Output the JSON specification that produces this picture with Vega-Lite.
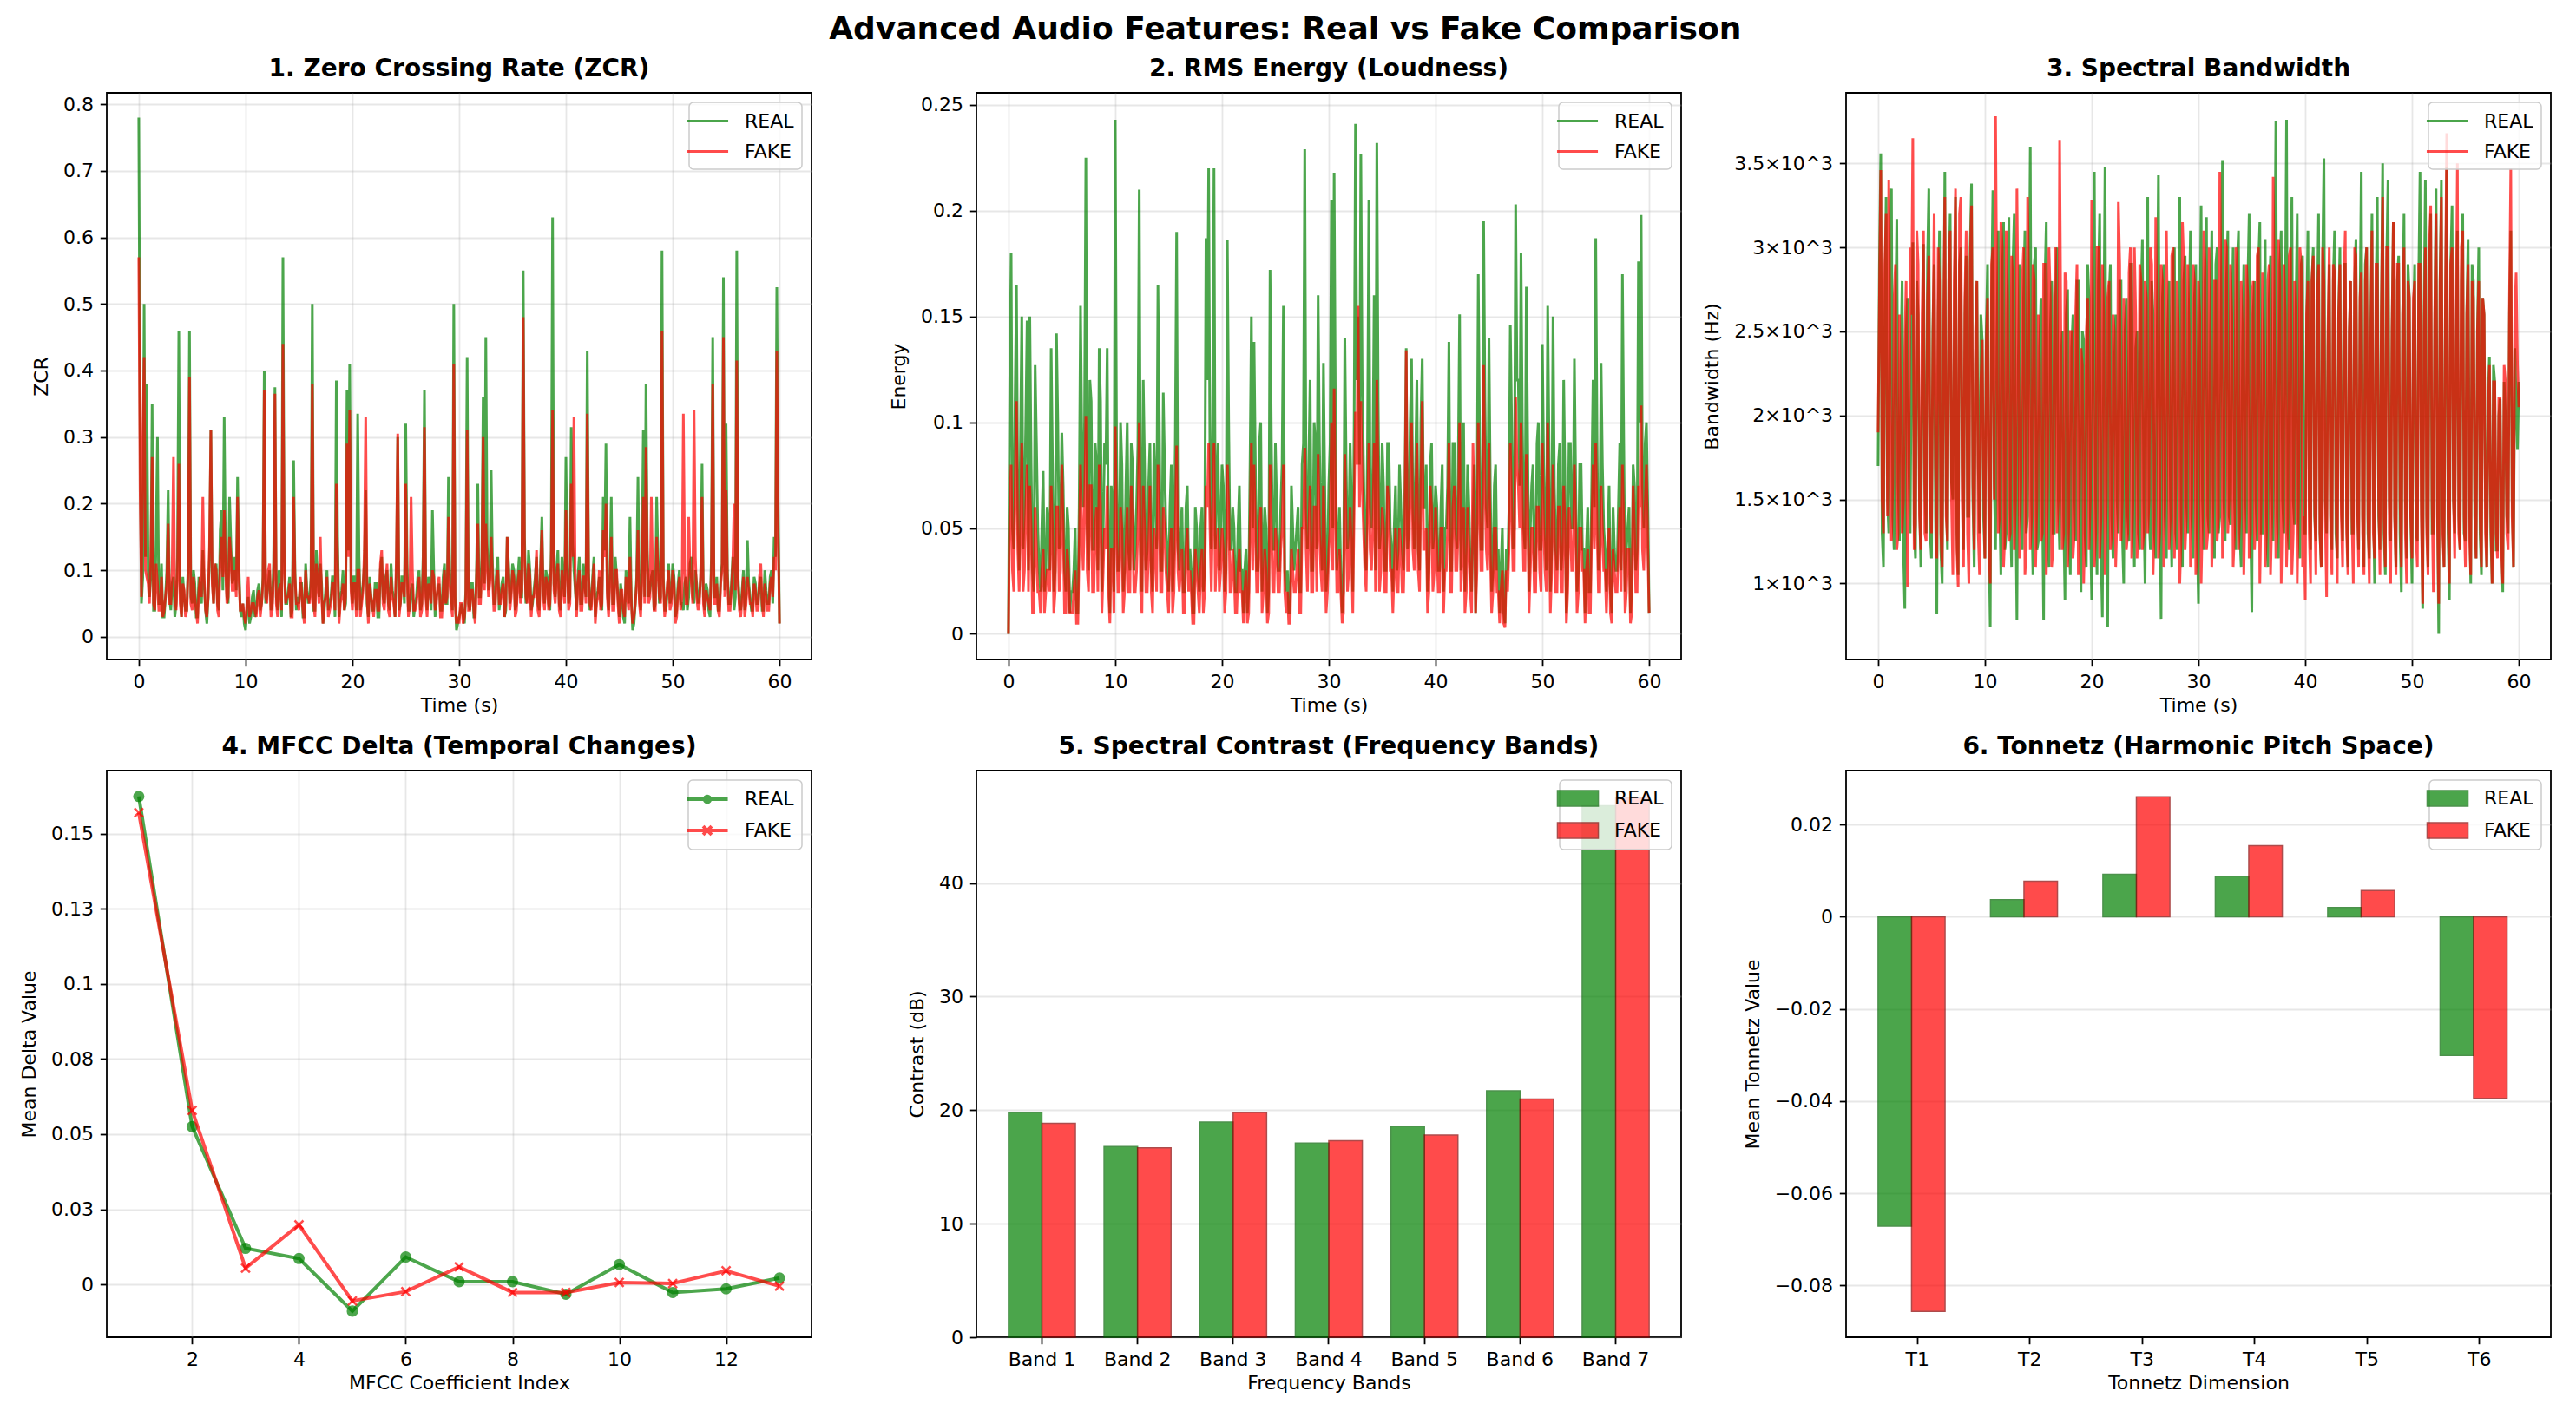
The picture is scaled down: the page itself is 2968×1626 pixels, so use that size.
{
  "$schema": "https://vega.github.io/schema/vega-lite/v6.json",
  "background": "white",
  "padding": {"left": 21, "top": 16, "right": 20, "bottom": 20},
  "title": {"text": "Advanced Audio Features: Real vs Fake Comparison", "fontSize": 36, "fontWeight": "bold", "anchor": "middle", "frame": "bounds", "offset": 12},
  "config": {
    "font": "DejaVu Sans",
    "view": {"stroke": "black", "strokeWidth": 1.8},
    "axis": {"domain": false, "tickColor": "black", "tickWidth": 1.8, "tickSize": 7.7, "labelFontSize": 22, "labelColor": "black", "labelPadding": 7.7, "titleFontSize": 22, "titleFontWeight": "normal", "titleColor": "black", "gridColor": "#b0b0b0", "gridOpacity": 0.3, "gridWidth": 1.8, "labelFlush": false, "labelOverlap": false},
    "axisX": {"titlePadding": 6},
    "axisY": {"titlePadding": 13},
    "title": {"fontSize": 28, "fontWeight": "bold", "color": "black", "offset": 13},
    "legend": {"orient": "top-right", "offset": 11, "labelFontSize": 22, "labelColor": "black", "padding": 9, "rowPadding": 11, "fillColor": "rgba(255,255,255,0.8)", "strokeColor": "#cccccc", "strokeWidth": 1.5, "cornerRadius": 5}
  },
  "datasets": {
    "ts": [
      {"t":0,"zr":0.78,"zf":0.57,"er":0,"ef":0,"br":1700,"bf":1900},
      {"t":0.25,"zr":0.05,"zf":0.06,"er":0.18,"ef":0.08,"br":3560,"bf":3460},
      {"t":0.5,"zr":0.5,"zf":0.42,"er":0.04,"ef":0.02,"br":1100,"bf":1300},
      {"t":0.75,"zr":0.38,"zf":0.09,"er":0.165,"ef":0.11,"br":3300,"bf":3200},
      {"t":1,"zr":0.06,"zf":0.05,"er":0.03,"ef":0.02,"br":1300,"bf":3400},
      {"t":1.25,"zr":0.35,"zf":0.27,"er":0.15,"ef":0.09,"br":3350,"bf":1250},
      {"t":1.5,"zr":0.04,"zf":0.04,"er":0.06,"ef":0.03,"br":1200,"bf":2700},
      {"t":1.75,"zr":0.3,"zf":0.08,"er":0.148,"ef":0.08,"br":3170,"bf":1200},
      {"t":2,"zr":0.05,"zf":0.04,"er":0.15,"ef":0.07,"br":1250,"bf":2600},
      {"t":2.25,"zr":0.03,"zf":0.03,"er":0.03,"ef":0.01,"br":2800,"bf":1300},
      {"t":2.5,"zr":0.06,"zf":0.06,"er":0.127,"ef":0.06,"br":850,"bf":2400},
      {"t":2.75,"zr":0.22,"zf":0.17,"er":0.05,"ef":0.02,"br":2700,"bf":980},
      {"t":3,"zr":0.04,"zf":0.05,"er":0.02,"ef":0.01,"br":1300,"bf":3000},
      {"t":3.25,"zr":0.09,"zf":0.27,"er":0.077,"ef":0.04,"br":3030,"bf":3650},
      {"t":3.5,"zr":0.05,"zf":0.04,"er":0.03,"ef":0.02,"br":1150,"bf":1350},
      {"t":3.75,"zr":0.46,"zf":0.26,"er":0.05,"ef":0.03,"br":2600,"bf":2900},
      {"t":4,"zr":0.03,"zf":0.03,"er":0.135,"ef":0.07,"br":1100,"bf":1200},
      {"t":4.25,"zr":0.06,"zf":0.07,"er":0.02,"ef":0.01,"br":3020,"bf":3100},
      {"t":4.5,"zr":0.04,"zf":0.04,"er":0.142,"ef":0.06,"br":1300,"bf":1250},
      {"t":4.75,"zr":0.46,"zf":0.39,"er":0.04,"ef":0.02,"br":3350,"bf":2950},
      {"t":5,"zr":0.05,"zf":0.04,"er":0.095,"ef":0.08,"br":1150,"bf":1300},
      {"t":5.25,"zr":0.08,"zf":0.06,"er":0.03,"ef":0.01,"br":2900,"bf":3200},
      {"t":5.5,"zr":0.03,"zf":0.02,"er":0.06,"ef":0.04,"br":820,"bf":1150},
      {"t":5.75,"zr":0.07,"zf":0.09,"er":0.01,"ef":0.01,"br":3100,"bf":2800},
      {"t":6,"zr":0.13,"zf":0.21,"er":0.02,"ef":0.01,"br":1000,"bf":1100},
      {"t":6.25,"zr":0.04,"zf":0.04,"er":0.05,"ef":0.03,"br":3450,"bf":3300},
      {"t":6.5,"zr":0.06,"zf":0.06,"er":0.01,"ef":0.005,"br":1200,"bf":1250},
      {"t":6.75,"zr":0.31,"zf":0.31,"er":0.155,"ef":0.08,"br":3200,"bf":3100},
      {"t":7,"zr":0.05,"zf":0.05,"er":0.06,"ef":0.03,"br":1500,"bf":1050},
      {"t":7.25,"zr":0.11,"zf":0.1,"er":0.225,"ef":0.103,"br":3300,"bf":3350},
      {"t":7.5,"zr":0.04,"zf":0.03,"er":0.03,"ef":0.02,"br":1050,"bf":980},
      {"t":7.75,"zr":0.19,"zf":0.15,"er":0.11,"ef":0.07,"br":3000,"bf":3300},
      {"t":8,"zr":0.33,"zf":0.19,"er":0.04,"ef":0.02,"br":1200,"bf":1100},
      {"t":8.25,"zr":0.06,"zf":0.05,"er":0.08,"ef":0.06,"br":2950,"bf":3100},
      {"t":8.5,"zr":0.21,"zf":0.15,"er":0.135,"ef":0.08,"br":1400,"bf":1000},
      {"t":8.75,"zr":0.08,"zf":0.07,"er":0.02,"ef":0.01,"br":3380,"bf":3250},
      {"t":9,"zr":0.12,"zf":0.1,"er":0.09,"ef":0.05,"br":1100,"bf":1200},
      {"t":9.25,"zr":0.24,"zf":0.21,"er":0.135,"ef":0.07,"br":2800,"bf":2800},
      {"t":9.5,"zr":0.04,"zf":0.04,"er":0.01,"ef":0.005,"br":1300,"bf":1050},
      {"t":9.75,"zr":0.05,"zf":0.05,"er":0.06,"ef":0.04,"br":2450,"bf":2450},
      {"t":10,"zr":0.01,"zf":0.02,"er":0.243,"ef":0.098,"br":1150,"bf":1150},
      {"t":10.25,"zr":0.06,"zf":0.09,"er":0.03,"ef":0.02,"br":2900,"bf":2700},
      {"t":10.5,"zr":0.03,"zf":0.04,"er":0.1,"ef":0.06,"br":740,"bf":1000},
      {"t":10.75,"zr":0.07,"zf":0.05,"er":0.02,"ef":0.01,"br":3340,"bf":3000},
      {"t":11,"zr":0.04,"zf":0.03,"er":0.07,"ef":0.04,"br":1200,"bf":3780},
      {"t":11.25,"zr":0.08,"zf":0.07,"er":0.04,"ef":0.02,"br":3100,"bf":1300},
      {"t":11.5,"zr":0.05,"zf":0.05,"er":0.09,"ef":0.07,"br":1050,"bf":3150},
      {"t":11.75,"zr":0.4,"zf":0.37,"er":0.03,"ef":0.02,"br":3150,"bf":1100},
      {"t":12,"zr":0.06,"zf":0.05,"er":0.06,"ef":0.03,"br":1300,"bf":3100},
      {"t":12.25,"zr":0.1,"zf":0.11,"er":0.21,"ef":0.1,"br":3180,"bf":1250},
      {"t":12.5,"zr":0.05,"zf":0.04,"er":0.02,"ef":0.01,"br":1100,"bf":2950},
      {"t":12.75,"zr":0.375,"zf":0.365,"er":0.08,"ef":0.05,"br":3200,"bf":1200},
      {"t":13,"zr":0.04,"zf":0.03,"er":0.04,"ef":0.02,"br":780,"bf":3350},
      {"t":13.25,"zr":0.09,"zf":0.08,"er":0.09,"ef":0.07,"br":2900,"bf":1150},
      {"t":13.5,"zr":0.57,"zf":0.44,"er":0.02,"ef":0.01,"br":1200,"bf":2800},
      {"t":13.75,"zr":0.05,"zf":0.05,"er":0.07,"ef":0.04,"br":3100,"bf":1050},
      {"t":14,"zr":0.07,"zf":0.06,"er":0.165,"ef":0.08,"br":1400,"bf":3300},
      {"t":14.25,"zr":0.03,"zf":0.03,"er":0.03,"ef":0.02,"br":3600,"bf":1200},
      {"t":14.5,"zr":0.265,"zf":0.21,"er":0.114,"ef":0.06,"br":1050,"bf":2900},
      {"t":14.75,"zr":0.04,"zf":0.05,"er":0.05,"ef":0.03,"br":3000,"bf":1100},
      {"t":15,"zr":0.05,"zf":0.04,"er":0.02,"ef":0.01,"br":1250,"bf":2600},
      {"t":15.25,"zr":0.08,"zf":0.07,"er":0.08,"ef":0.05,"br":2700,"bf":1250},
      {"t":15.5,"zr":0.03,"zf":0.02,"er":0.04,"ef":0.02,"br":780,"bf":2900},
      {"t":15.75,"zr":0.07,"zf":0.06,"er":0.19,"ef":0.089,"br":3150,"bf":1050},
      {"t":16,"zr":0.06,"zf":0.05,"er":0.03,"ef":0.02,"br":1100,"bf":3000},
      {"t":16.25,"zr":0.5,"zf":0.38,"er":0.06,"ef":0.04,"br":2800,"bf":1100},
      {"t":16.5,"zr":0.04,"zf":0.03,"er":0.02,"ef":0.01,"br":1300,"bf":2700},
      {"t":16.75,"zr":0.09,"zf":0.08,"er":0.07,"ef":0.05,"br":3000,"bf":1300},
      {"t":17,"zr":0.11,"zf":0.15,"er":0.04,"ef":0.03,"br":1200,"bf":3640},
      {"t":17.25,"zr":0.02,"zf":0.02,"er":0.01,"ef":0.005,"br":2500,"bf":1200},
      {"t":17.5,"zr":0.07,"zf":0.06,"er":0.06,"ef":0.04,"br":900,"bf":2850},
      {"t":17.75,"zr":0.04,"zf":0.03,"er":0.03,"ef":0.02,"br":2750,"bf":1100},
      {"t":18,"zr":0.06,"zf":0.05,"er":0.05,"ef":0.03,"br":1050,"bf":2500},
      {"t":18.25,"zr":0.09,"zf":0.08,"er":0.02,"ef":0.01,"br":2600,"bf":1150},
      {"t":18.5,"zr":0.385,"zf":0.23,"er":0.187,"ef":0.07,"br":1250,"bf":2600},
      {"t":18.75,"zr":0.03,"zf":0.02,"er":0.22,"ef":0.09,"br":2800,"bf":1050},
      {"t":19,"zr":0.07,"zf":0.06,"er":0.04,"ef":0.02,"br":950,"bf":2400},
      {"t":19.25,"zr":0.04,"zf":0.04,"er":0.22,"ef":0.09,"br":2450,"bf":1000},
      {"t":19.5,"zr":0.37,"zf":0.29,"er":0.07,"ef":0.04,"br":1100,"bf":2500},
      {"t":19.75,"zr":0.41,"zf":0.34,"er":0.03,"ef":0.02,"br":2700,"bf":1200},
      {"t":20,"zr":0.05,"zf":0.04,"er":0.08,"ef":0.05,"br":900,"bf":3280},
      {"t":20.25,"zr":0.09,"zf":0.08,"er":0.02,"ef":0.01,"br":3450,"bf":1100},
      {"t":20.5,"zr":0.335,"zf":0.1,"er":0.186,"ef":0.08,"br":1050,"bf":3000},
      {"t":20.75,"zr":0.04,"zf":0.03,"er":0.04,"ef":0.02,"br":3200,"bf":1150},
      {"t":21,"zr":0.08,"zf":0.07,"er":0.06,"ef":0.04,"br":800,"bf":2900},
      {"t":21.25,"zr":0.22,"zf":0.33,"er":0.02,"ef":0.01,"br":3480,"bf":1050},
      {"t":21.5,"zr":0.03,"zf":0.02,"er":0.05,"ef":0.03,"br":740,"bf":2700},
      {"t":21.75,"zr":0.06,"zf":0.06,"er":0.03,"ef":0.02,"br":2900,"bf":1200},
      {"t":22,"zr":0.04,"zf":0.03,"er":0.01,"ef":0.005,"br":1150,"bf":2600},
      {"t":22.25,"zr":0.08,"zf":0.07,"er":0.04,"ef":0.03,"br":2600,"bf":1100},
      {"t":22.5,"zr":0.03,"zf":0.04,"er":0.02,"ef":0.01,"br":1300,"bf":3270},
      {"t":22.75,"zr":0.12,"zf":0.13,"er":0.15,"ef":0.09,"br":2800,"bf":1250},
      {"t":23,"zr":0.05,"zf":0.04,"er":0.138,"ef":0.08,"br":1000,"bf":2700},
      {"t":23.25,"zr":0.1,"zf":0.11,"er":0.03,"ef":0.02,"br":2700,"bf":1200},
      {"t":23.5,"zr":0.04,"zf":0.03,"er":0.09,"ef":0.05,"br":1250,"bf":2850},
      {"t":23.75,"zr":0.07,"zf":0.06,"er":0.02,"ef":0.01,"br":2900,"bf":1150},
      {"t":24,"zr":0.03,"zf":0.03,"er":0.06,"ef":0.04,"br":1100,"bf":3000},
      {"t":24.25,"zr":0.3,"zf":0.305,"er":0.01,"ef":0.005,"br":2500,"bf":1150},
      {"t":24.5,"zr":0.05,"zf":0.05,"er":0.172,"ef":0.08,"br":1200,"bf":2900},
      {"t":24.75,"zr":0.09,"zf":0.08,"er":0.04,"ef":0.02,"br":3050,"bf":1200},
      {"t":25,"zr":0.32,"zf":0.23,"er":0.09,"ef":0.05,"br":1000,"bf":2800},
      {"t":25.25,"zr":0.04,"zf":0.03,"er":0.03,"ef":0.02,"br":3300,"bf":1300},
      {"t":25.5,"zr":0.07,"zf":0.21,"er":0.06,"ef":0.04,"br":1200,"bf":3000},
      {"t":25.75,"zr":0.03,"zf":0.04,"er":0.155,"ef":0.08,"br":2600,"bf":1050},
      {"t":26,"zr":0.06,"zf":0.05,"er":0.02,"ef":0.01,"br":1150,"bf":3180},
      {"t":26.25,"zr":0.1,"zf":0.09,"er":0.01,"ef":0.005,"br":3430,"bf":1150},
      {"t":26.5,"zr":0.05,"zf":0.04,"er":0.07,"ef":0.04,"br":790,"bf":2900},
      {"t":26.75,"zr":0.37,"zf":0.315,"er":0.03,"ef":0.02,"br":2900,"bf":1100},
      {"t":27,"zr":0.04,"zf":0.03,"er":0.05,"ef":0.03,"br":1150,"bf":3100},
      {"t":27.25,"zr":0.08,"zf":0.07,"er":0.02,"ef":0.01,"br":2800,"bf":1200},
      {"t":27.5,"zr":0.19,"zf":0.1,"er":0.08,"ef":0.05,"br":1100,"bf":2950},
      {"t":27.75,"zr":0.03,"zf":0.04,"er":0.229,"ef":0.088,"br":3000,"bf":1150},
      {"t":28,"zr":0.07,"zf":0.08,"er":0.04,"ef":0.02,"br":1200,"bf":2800},
      {"t":28.25,"zr":0.04,"zf":0.03,"er":0.12,"ef":0.07,"br":3300,"bf":1000},
      {"t":28.5,"zr":0.09,"zf":0.07,"er":0.03,"ef":0.02,"br":1100,"bf":3150},
      {"t":28.75,"zr":0.05,"zf":0.05,"er":0.09,"ef":0.06,"br":2950,"bf":1200},
      {"t":29,"zr":0.24,"zf":0.18,"er":0.16,"ef":0.085,"br":1300,"bf":2900},
      {"t":29.25,"zr":0.06,"zf":0.05,"er":0.05,"ef":0.03,"br":3100,"bf":1100},
      {"t":29.5,"zr":0.5,"zf":0.41,"er":0.128,"ef":0.07,"br":1150,"bf":2900},
      {"t":29.75,"zr":0.01,"zf":0.02,"er":0.02,"ef":0.01,"br":2900,"bf":1050},
      {"t":30,"zr":0.03,"zf":0.02,"er":0.07,"ef":0.04,"br":880,"bf":2800},
      {"t":30.25,"zr":0.05,"zf":0.05,"er":0.205,"ef":0.1,"br":3250,"bf":1000},
      {"t":30.5,"zr":0.02,"zf":0.03,"er":0.218,"ef":0.116,"br":1200,"bf":3100},
      {"t":30.75,"zr":0.42,"zf":0.31,"er":0.03,"ef":0.02,"br":3180,"bf":1200},
      {"t":31,"zr":0.04,"zf":0.04,"er":0.06,"ef":0.04,"br":1300,"bf":3000},
      {"t":31.25,"zr":0.08,"zf":0.07,"er":0.01,"ef":0.005,"br":3100,"bf":1100},
      {"t":31.5,"zr":0.03,"zf":0.02,"er":0.14,"ef":0.085,"br":1150,"bf":2800},
      {"t":31.75,"zr":0.23,"zf":0.17,"er":0.04,"ef":0.02,"br":3000,"bf":1250},
      {"t":32,"zr":0.06,"zf":0.05,"er":0.09,"ef":0.06,"br":1400,"bf":3450},
      {"t":32.25,"zr":0.36,"zf":0.3,"er":0.02,"ef":0.01,"br":3520,"bf":1150},
      {"t":32.5,"zr":0.45,"zf":0.17,"er":0.241,"ef":0.105,"br":1250,"bf":3050},
      {"t":32.75,"zr":0.07,"zf":0.06,"er":0.15,"ef":0.155,"br":3100,"bf":1300},
      {"t":33,"zr":0.25,"zf":0.15,"er":0.227,"ef":0.11,"br":1350,"bf":2900},
      {"t":33.25,"zr":0.05,"zf":0.04,"er":0.08,"ef":0.05,"br":3000,"bf":1100},
      {"t":33.5,"zr":0.1,"zf":0.09,"er":0.03,"ef":0.02,"br":1200,"bf":3000},
      {"t":33.75,"zr":0.04,"zf":0.05,"er":0.205,"ef":0.09,"br":3100,"bf":1200},
      {"t":34,"zr":0.08,"zf":0.07,"er":0.05,"ef":0.03,"br":1100,"bf":2800},
      {"t":34.25,"zr":0.03,"zf":0.03,"er":0.16,"ef":0.09,"br":2900,"bf":1050},
      {"t":34.5,"zr":0.15,"zf":0.15,"er":0.232,"ef":0.12,"br":1300,"bf":2900},
      {"t":34.75,"zr":0.05,"zf":0.04,"er":0.04,"ef":0.02,"br":3200,"bf":1150},
      {"t":35,"zr":0.11,"zf":0.1,"er":0.09,"ef":0.06,"br":830,"bf":2700},
      {"t":35.25,"zr":0.04,"zf":0.03,"er":0.03,"ef":0.02,"br":2800,"bf":1200},
      {"t":35.5,"zr":0.09,"zf":0.08,"er":0.09,"ef":0.07,"br":1250,"bf":2950},
      {"t":35.75,"zr":0.06,"zf":0.05,"er":0.05,"ef":0.03,"br":3150,"bf":1000},
      {"t":36,"zr":0.55,"zf":0.48,"er":0.02,"ef":0.01,"br":1300,"bf":2850},
      {"t":36.25,"zr":0.05,"zf":0.06,"er":0.07,"ef":0.05,"br":3050,"bf":1100},
      {"t":36.5,"zr":0.13,"zf":0.11,"er":0.04,"ef":0.02,"br":1100,"bf":2800},
      {"t":36.75,"zr":0.04,"zf":0.03,"er":0.06,"ef":0.04,"br":2950,"bf":1050},
      {"t":37,"zr":0.07,"zf":0.06,"er":0.03,"ef":0.02,"br":1250,"bf":3420},
      {"t":37.25,"zr":0.12,"zf":0.13,"er":0.135,"ef":0.134,"br":3750,"bf":1150},
      {"t":37.5,"zr":0.04,"zf":0.03,"er":0.05,"ef":0.03,"br":1150,"bf":3050},
      {"t":37.75,"zr":0.18,"zf":0.16,"er":0.13,"ef":0.1,"br":3100,"bf":1000},
      {"t":38,"zr":0.05,"zf":0.04,"er":0.04,"ef":0.03,"br":1300,"bf":2900},
      {"t":38.25,"zr":0.09,"zf":0.08,"er":0.12,"ef":0.09,"br":3760,"bf":1100},
      {"t":38.5,"zr":0.04,"zf":0.05,"er":0.03,"ef":0.02,"br":1200,"bf":2950},
      {"t":38.75,"zr":0.63,"zf":0.34,"er":0.13,"ef":0.11,"br":3300,"bf":1050},
      {"t":39,"zr":0.06,"zf":0.05,"er":0.06,"ef":0.04,"br":1350,"bf":2800},
      {"t":39.25,"zr":0.13,"zf":0.11,"er":0.02,"ef":0.01,"br":3200,"bf":1000},
      {"t":39.5,"zr":0.04,"zf":0.03,"er":0.08,"ef":0.07,"br":1150,"bf":3000},
      {"t":39.75,"zr":0.08,"zf":0.07,"er":0.04,"ef":0.02,"br":2950,"bf":1100},
      {"t":40,"zr":0.27,"zf":0.19,"er":0.07,"ef":0.06,"br":1300,"bf":900},
      {"t":40.25,"zr":0.05,"zf":0.04,"er":0.03,"ef":0.02,"br":3100,"bf":2800},
      {"t":40.5,"zr":0.315,"zf":0.23,"er":0.06,"ef":0.05,"br":1200,"bf":1000},
      {"t":40.75,"zr":0.1,"zf":0.33,"er":0.02,"ef":0.01,"br":3000,"bf":2950},
      {"t":41,"zr":0.04,"zf":0.03,"er":0.05,"ef":0.03,"br":1250,"bf":1050},
      {"t":41.25,"zr":0.12,"zf":0.1,"er":0.138,"ef":0.09,"br":3200,"bf":2900},
      {"t":41.5,"zr":0.05,"zf":0.04,"er":0.03,"ef":0.02,"br":1100,"bf":1100},
      {"t":41.75,"zr":0.08,"zf":0.09,"er":0.09,"ef":0.07,"br":3530,"bf":2800},
      {"t":42,"zr":0.43,"zf":0.335,"er":0.04,"ef":0.03,"br":1300,"bf":920},
      {"t":42.25,"zr":0.04,"zf":0.05,"er":0.151,"ef":0.1,"br":2900,"bf":3000},
      {"t":42.5,"zr":0.09,"zf":0.08,"er":0.06,"ef":0.04,"br":1200,"bf":1050},
      {"t":42.75,"zr":0.03,"zf":0.02,"er":0.02,"ef":0.01,"br":3100,"bf":2850},
      {"t":43,"zr":0.07,"zf":0.06,"er":0.08,"ef":0.06,"br":1150,"bf":1000},
      {"t":43.25,"zr":0.05,"zf":0.04,"er":0.03,"ef":0.02,"br":3000,"bf":2900},
      {"t":43.5,"zr":0.21,"zf":0.16,"er":0.05,"ef":0.09,"br":1250,"bf":1100},
      {"t":43.75,"zr":0.29,"zf":0.2,"er":0.01,"ef":0.01,"br":2900,"bf":3100},
      {"t":44,"zr":0.04,"zf":0.03,"er":0.17,"ef":0.1,"br":1100,"bf":1050},
      {"t":44.25,"zr":0.21,"zf":0.15,"er":0.04,"ef":0.03,"br":2800,"bf":2800},
      {"t":44.5,"zr":0.05,"zf":0.04,"er":0.195,"ef":0.127,"br":1300,"bf":1000},
      {"t":44.75,"zr":0.09,"zf":0.1,"er":0.06,"ef":0.04,"br":3050,"bf":2950},
      {"t":45,"zr":0.03,"zf":0.02,"er":0.14,"ef":0.09,"br":1200,"bf":1100},
      {"t":45.25,"zr":0.06,"zf":0.07,"er":0.02,"ef":0.01,"br":3450,"bf":2850},
      {"t":45.5,"zr":0.02,"zf":0.03,"er":0.07,"ef":0.05,"br":1100,"bf":1050},
      {"t":45.75,"zr":0.08,"zf":0.06,"er":0.03,"ef":0.02,"br":3000,"bf":3000},
      {"t":46,"zr":0.18,"zf":0.12,"er":0.01,"ef":0.005,"br":1150,"bf":1000},
      {"t":46.25,"zr":0.01,"zf":0.02,"er":0.05,"ef":0.03,"br":3200,"bf":3100},
      {"t":46.5,"zr":0.05,"zf":0.05,"er":0.005,"ef":0.003,"br":1000,"bf":1150},
      {"t":46.75,"zr":0.24,"zf":0.16,"er":0.03,"ef":0.02,"br":3300,"bf":2900},
      {"t":47,"zr":0.04,"zf":0.03,"er":0.146,"ef":0.09,"br":1200,"bf":1050},
      {"t":47.25,"zr":0.31,"zf":0.21,"er":0.04,"ef":0.03,"br":3500,"bf":3300},
      {"t":47.5,"zr":0.38,"zf":0.285,"er":0.203,"ef":0.112,"br":1050,"bf":1100},
      {"t":47.75,"zr":0.06,"zf":0.05,"er":0.12,"ef":0.07,"br":3400,"bf":3000},
      {"t":48,"zr":0.09,"zf":0.21,"er":0.18,"ef":0.1,"br":1250,"bf":1000},
      {"t":48.25,"zr":0.04,"zf":0.04,"er":0.05,"ef":0.03,"br":3150,"bf":3150},
      {"t":48.5,"zr":0.21,"zf":0.15,"er":0.164,"ef":0.085,"br":1100,"bf":1050},
      {"t":48.75,"zr":0.05,"zf":0.06,"er":0.02,"ef":0.01,"br":2950,"bf":2900},
      {"t":49,"zr":0.58,"zf":0.46,"er":0.07,"ef":0.05,"br":950,"bf":1100},
      {"t":49.25,"zr":0.04,"zf":0.03,"er":0.03,"ef":0.02,"br":3200,"bf":3000},
      {"t":49.5,"zr":0.07,"zf":0.08,"er":0.09,"ef":0.06,"br":1150,"bf":1000},
      {"t":49.75,"zr":0.05,"zf":0.04,"er":0.04,"ef":0.03,"br":2700,"bf":2700},
      {"t":50,"zr":0.11,"zf":0.1,"er":0.137,"ef":0.09,"br":1000,"bf":1150},
      {"t":50.25,"zr":0.03,"zf":0.02,"er":0.05,"ef":0.03,"br":2900,"bf":2800},
      {"t":50.5,"zr":0.08,"zf":0.07,"er":0.155,"ef":0.1,"br":1250,"bf":1100},
      {"t":50.75,"zr":0.05,"zf":0.04,"er":0.02,"ef":0.01,"br":3450,"bf":2900},
      {"t":51,"zr":0.04,"zf":0.335,"er":0.15,"ef":0.08,"br":850,"bf":880},
      {"t":51.25,"zr":0.09,"zf":0.05,"er":0.04,"ef":0.02,"br":3400,"bf":3000},
      {"t":51.5,"zr":0.06,"zf":0.18,"er":0.08,"ef":0.06,"br":1100,"bf":1050},
      {"t":51.75,"zr":0.12,"zf":0.08,"er":0.03,"ef":0.02,"br":3200,"bf":3250},
      {"t":52,"zr":0.05,"zf":0.34,"er":0.12,"ef":0.07,"br":1300,"bf":950},
      {"t":52.25,"zr":0.08,"zf":0.06,"er":0.01,"ef":0.005,"br":3350,"bf":3200},
      {"t":52.5,"zr":0.06,"zf":0.05,"er":0.09,"ef":0.06,"br":700,"bf":880},
      {"t":52.75,"zr":0.26,"zf":0.21,"er":0.05,"ef":0.03,"br":3400,"bf":3300},
      {"t":53,"zr":0.04,"zf":0.03,"er":0.13,"ef":0.08,"br":1100,"bf":1100},
      {"t":53.25,"zr":0.07,"zf":0.06,"er":0.02,"ef":0.01,"br":3480,"bf":3680},
      {"t":53.5,"zr":0.03,"zf":0.04,"er":0.08,"ef":0.05,"br":900,"bf":1000},
      {"t":53.75,"zr":0.45,"zf":0.38,"er":0.04,"ef":0.03,"br":3250,"bf":3000},
      {"t":54,"zr":0.06,"zf":0.05,"er":0.01,"ef":0.005,"br":1300,"bf":1150},
      {"t":54.25,"zr":0.04,"zf":0.04,"er":0.06,"ef":0.04,"br":3100,"bf":3500},
      {"t":54.5,"zr":0.09,"zf":0.08,"er":0.02,"ef":0.01,"br":1200,"bf":1200},
      {"t":54.75,"zr":0.54,"zf":0.45,"er":0.12,"ef":0.08,"br":3200,"bf":3100},
      {"t":55,"zr":0.32,"zf":0.22,"er":0.187,"ef":0.09,"br":1250,"bf":1100},
      {"t":55.25,"zr":0.05,"zf":0.04,"er":0.03,"ef":0.02,"br":3050,"bf":2900},
      {"t":55.5,"zr":0.08,"zf":0.07,"er":0.128,"ef":0.07,"br":1000,"bf":1050},
      {"t":55.75,"zr":0.04,"zf":0.2,"er":0.05,"ef":0.03,"br":2800,"bf":2700},
      {"t":56,"zr":0.58,"zf":0.415,"er":0.02,"ef":0.01,"br":1150,"bf":1150},
      {"t":56.25,"zr":0.05,"zf":0.04,"er":0.07,"ef":0.05,"br":3000,"bf":2800},
      {"t":56.5,"zr":0.07,"zf":0.06,"er":0.01,"ef":0.005,"br":1050,"bf":1100},
      {"t":56.75,"zr":0.04,"zf":0.03,"er":0.04,"ef":0.03,"br":2600,"bf":2600},
      {"t":57,"zr":0.145,"zf":0.09,"er":0.03,"ef":0.02,"br":1100,"bf":1100},
      {"t":57.25,"zr":0.06,"zf":0.05,"er":0.09,"ef":0.06,"br":2350,"bf":2300},
      {"t":57.5,"zr":0.04,"zf":0.03,"er":0.17,"ef":0.08,"br":1000,"bf":1000},
      {"t":57.75,"zr":0.08,"zf":0.07,"er":0.02,"ef":0.01,"br":2200,"bf":2200},
      {"t":58,"zr":0.05,"zf":0.04,"er":0.05,"ef":0.04,"br":1200,"bf":1150},
      {"t":58.25,"zr":0.09,"zf":0.11,"er":0.01,"ef":0.005,"br":2100,"bf":2100},
      {"t":58.5,"zr":0.04,"zf":0.03,"er":0.08,"ef":0.07,"br":950,"bf":1000},
      {"t":58.75,"zr":0.07,"zf":0.06,"er":0.03,"ef":0.02,"br":2000,"bf":2200},
      {"t":59,"zr":0.05,"zf":0.04,"er":0.176,"ef":0.07,"br":1300,"bf":1200},
      {"t":59.25,"zr":0.1,"zf":0.09,"er":0.198,"ef":0.108,"br":3100,"bf":3470},
      {"t":59.5,"zr":0.15,"zf":0.12,"er":0.05,"ef":0.03,"br":1100,"bf":1100},
      {"t":59.75,"zr":0.525,"zf":0.43,"er":0.1,"ef":0.08,"br":2100,"bf":2850},
      {"t":60,"zr":0.02,"zf":0.02,"er":0.01,"ef":0.01,"br":2200,"bf":2050},
      {"t":0.125,"zr":0.3,"zf":0.22,"er":0.12,"ef":0.06,"br":2900,"bf":2700},
      {"t":0.375,"zr":0.09,"zf":0.3,"er":0.05,"ef":0.03,"br":1300,"bf":1500},
      {"t":0.625,"zr":0.12,"zf":0.1,"er":0.11,"ef":0.07,"br":2600,"bf":2900},
      {"t":0.875,"zr":0.1,"zf":0.08,"er":0.06,"ef":0.04,"br":1500,"bf":1400},
      {"t":1.125,"zr":0.09,"zf":0.12,"er":0.09,"ef":0.05,"br":2700,"bf":2300},
      {"t":1.375,"zr":0.04,"zf":0.05,"er":0.04,"ef":0.02,"br":1400,"bf":1600},
      {"t":1.625,"zr":0.15,"zf":0.11,"er":0.1,"ef":0.06,"br":2500,"bf":2900},
      {"t":1.875,"zr":0.05,"zf":0.04,"er":0.03,"ef":0.02,"br":1600,"bf":1300},
      {"t":2.125,"zr":0.11,"zf":0.09,"er":0.08,"ef":0.05,"br":2300,"bf":2000},
      {"t":2.375,"zr":0.03,"zf":0.04,"er":0.02,"ef":0.01,"br":1200,"bf":1500},
      {"t":2.625,"zr":0.1,"zf":0.08,"er":0.09,"ef":0.04,"br":2500,"bf":2800},
      {"t":2.875,"zr":0.06,"zf":0.05,"er":0.03,"ef":0.02,"br":1700,"bf":1600},
      {"t":3.125,"zr":0.08,"zf":0.1,"er":0.05,"ef":0.03,"br":2400,"bf":2600},
      {"t":3.375,"zr":0.03,"zf":0.06,"er":0.02,"ef":0.01,"br":1350,"bf":1200},
      {"t":3.625,"zr":0.12,"zf":0.09,"er":0.06,"ef":0.03,"br":2800,"bf":3100},
      {"t":3.875,"zr":0.07,"zf":0.05,"er":0.03,"ef":0.02,"br":1500,"bf":1400},
      {"t":4.125,"zr":0.09,"zf":0.08,"er":0.08,"ef":0.05,"br":2200,"bf":2600},
      {"t":4.375,"zr":0.04,"zf":0.03,"er":0.03,"ef":0.02,"br":1600,"bf":1300},
      {"t":4.625,"zr":0.11,"zf":0.1,"er":0.1,"ef":0.06,"br":2900,"bf":2700},
      {"t":4.875,"zr":0.06,"zf":0.05,"er":0.05,"ef":0.03,"br":1300,"bf":1500},
      {"t":5.125,"zr":0.1,"zf":0.09,"er":0.07,"ef":0.05,"br":2500,"bf":2400},
      {"t":5.375,"zr":0.03,"zf":0.04,"er":0.02,"ef":0.01,"br":1400,"bf":1700},
      {"t":5.625,"zr":0.09,"zf":0.07,"er":0.05,"ef":0.03,"br":2600,"bf":3000},
      {"t":5.875,"zr":0.05,"zf":0.06,"er":0.02,"ef":0.01,"br":1200,"bf":1300},
      {"t":6.125,"zr":0.08,"zf":0.09,"er":0.03,"ef":0.02,"br":2300,"bf":2500},
      {"t":6.375,"zr":0.02,"zf":0.03,"er":0.01,"ef":0.005,"br":1500,"bf":1400},
      {"t":6.625,"zr":0.12,"zf":0.14,"er":0.06,"ef":0.04,"br":2800,"bf":2900},
      {"t":6.875,"zr":0.09,"zf":0.08,"er":0.09,"ef":0.05,"br":1600,"bf":1500},
      {"t":7.125,"zr":0.1,"zf":0.11,"er":0.1,"ef":0.06,"br":2400,"bf":2800},
      {"t":7.375,"zr":0.05,"zf":0.04,"er":0.05,"ef":0.03,"br":1300,"bf":1200},
      {"t":7.625,"zr":0.16,"zf":0.12,"er":0.12,"ef":0.07,"br":2900,"bf":3200},
      {"t":7.875,"zr":0.07,"zf":0.09,"er":0.04,"ef":0.02,"br":1700,"bf":1500},
      {"t":8.125,"zr":0.12,"zf":0.1,"er":0.09,"ef":0.05,"br":2600,"bf":2700},
      {"t":8.375,"zr":0.05,"zf":0.06,"er":0.03,"ef":0.02,"br":1400,"bf":1300},
      {"t":8.625,"zr":0.14,"zf":0.12,"er":0.11,"ef":0.06,"br":3000,"bf":2900},
      {"t":8.875,"zr":0.09,"zf":0.07,"er":0.05,"ef":0.03,"br":1500,"bf":1600},
      {"t":9.125,"zr":0.07,"zf":0.06,"er":0.08,"ef":0.04,"br":2300,"bf":2500},
      {"t":9.375,"zr":0.11,"zf":0.09,"er":0.03,"ef":0.02,"br":1700,"bf":1300},
      {"t":9.625,"zr":0.03,"zf":0.04,"er":0.07,"ef":0.04,"br":2600,"bf":2200},
      {"t":9.875,"zr":0.02,"zf":0.03,"er":0.02,"ef":0.01,"br":1400,"bf":1600},
      {"t":10.125,"zr":0.04,"zf":0.05,"er":0.09,"ef":0.05,"br":2500,"bf":2400},
      {"t":10.375,"zr":0.02,"zf":0.03,"er":0.03,"ef":0.02,"br":1300,"bf":1200},
      {"t":10.625,"zr":0.06,"zf":0.05,"er":0.08,"ef":0.05,"br":2700,"bf":2900},
      {"t":10.875,"zr":0.03,"zf":0.04,"er":0.03,"ef":0.02,"br":1600,"bf":1500},
      {"t":11.125,"zr":0.07,"zf":0.06,"er":0.1,"ef":0.06,"br":2400,"bf":2600},
      {"t":11.375,"zr":0.04,"zf":0.03,"er":0.03,"ef":0.02,"br":1500,"bf":1400},
      {"t":11.625,"zr":0.09,"zf":0.08,"er":0.08,"ef":0.05,"br":2800,"bf":3000},
      {"t":11.875,"zr":0.05,"zf":0.06,"er":0.04,"ef":0.02,"br":1200,"bf":1300},
      {"t":12.125,"zr":0.08,"zf":0.1,"er":0.09,"ef":0.05,"br":2600,"bf":2700},
      {"t":12.375,"zr":0.04,"zf":0.03,"er":0.04,"ef":0.02,"br":1450,"bf":1300},
      {"t":12.625,"zr":0.11,"zf":0.09,"er":0.12,"ef":0.07,"br":2900,"bf":2800},
      {"t":12.875,"zr":0.06,"zf":0.05,"er":0.03,"ef":0.02,"br":1600,"bf":1500},
      {"t":13.125,"zr":0.1,"zf":0.07,"er":0.07,"ef":0.04,"br":2300,"bf":2500},
      {"t":13.375,"zr":0.03,"zf":0.04,"er":0.03,"ef":0.02,"br":1400,"bf":1600},
      {"t":13.625,"zr":0.12,"zf":0.1,"er":0.09,"ef":0.05,"br":2700,"bf":3000},
      {"t":13.875,"zr":0.05,"zf":0.06,"er":0.04,"ef":0.02,"br":1300,"bf":1200},
      {"t":14.125,"zr":0.09,"zf":0.08,"er":0.1,"ef":0.06,"br":2500,"bf":2600},
      {"t":14.375,"zr":0.04,"zf":0.03,"er":0.03,"ef":0.02,"br":1500,"bf":1400},
      {"t":14.625,"zr":0.1,"zf":0.09,"er":0.08,"ef":0.05,"br":2900,"bf":2800},
      {"t":14.875,"zr":0.06,"zf":0.05,"er":0.04,"ef":0.02,"br":1200,"bf":1500},
      {"t":15.125,"zr":0.08,"zf":0.09,"er":0.06,"ef":0.04,"br":2400,"bf":2300},
      {"t":15.375,"zr":0.03,"zf":0.04,"er":0.02,"ef":0.01,"br":1600,"bf":1300},
      {"t":15.625,"zr":0.11,"zf":0.1,"er":0.09,"ef":0.05,"br":2800,"bf":2900},
      {"t":15.875,"zr":0.05,"zf":0.06,"er":0.04,"ef":0.03,"br":1400,"bf":1600},
      {"t":16.125,"zr":0.09,"zf":0.07,"er":0.05,"ef":0.03,"br":2500,"bf":2700},
      {"t":16.375,"zr":0.04,"zf":0.05,"er":0.02,"ef":0.01,"br":1300,"bf":1200},
      {"t":16.625,"zr":0.13,"zf":0.11,"er":0.06,"ef":0.04,"br":2700,"bf":3000},
      {"t":16.875,"zr":0.06,"zf":0.05,"er":0.03,"ef":0.02,"br":1500,"bf":1500},
      {"t":17.125,"zr":0.08,"zf":0.06,"er":0.03,"ef":0.02,"br":2300,"bf":2400},
      {"t":17.375,"zr":0.04,"zf":0.05,"er":0.01,"ef":0.005,"br":1400,"bf":1300},
      {"t":17.625,"zr":0.1,"zf":0.09,"er":0.05,"ef":0.03,"br":2600,"bf":2800},
      {"t":17.875,"zr":0.05,"zf":0.04,"er":0.02,"ef":0.01,"br":1300,"bf":1400},
      {"t":18.125,"zr":0.09,"zf":0.08,"er":0.06,"ef":0.04,"br":2400,"bf":2500},
      {"t":18.375,"zr":0.03,"zf":0.04,"er":0.03,"ef":0.02,"br":1600,"bf":1300},
      {"t":18.625,"zr":0.14,"zf":0.11,"er":0.12,"ef":0.06,"br":2800,"bf":2900},
      {"t":18.875,"zr":0.06,"zf":0.05,"er":0.08,"ef":0.05,"br":1500,"bf":1600},
      {"t":19.125,"zr":0.1,"zf":0.08,"er":0.1,"ef":0.06,"br":2500,"bf":2300},
      {"t":19.375,"zr":0.05,"zf":0.06,"er":0.04,"ef":0.02,"br":1300,"bf":1400},
      {"t":19.625,"zr":0.13,"zf":0.12,"er":0.09,"ef":0.05,"br":2900,"bf":2700},
      {"t":19.875,"zr":0.08,"zf":0.07,"er":0.05,"ef":0.03,"br":1400,"bf":1500},
      {"t":20.125,"zr":0.09,"zf":0.08,"er":0.07,"ef":0.04,"br":2600,"bf":2500},
      {"t":20.375,"zr":0.04,"zf":0.03,"er":0.03,"ef":0.02,"br":1500,"bf":1300},
      {"t":20.625,"zr":0.12,"zf":0.1,"er":0.1,"ef":0.06,"br":2800,"bf":3000},
      {"t":20.875,"zr":0.06,"zf":0.05,"er":0.04,"ef":0.02,"br":1200,"bf":1400},
      {"t":21.125,"zr":0.11,"zf":0.13,"er":0.05,"ef":0.03,"br":2400,"bf":2600},
      {"t":21.375,"zr":0.05,"zf":0.06,"er":0.02,"ef":0.01,"br":1600,"bf":1500},
      {"t":21.625,"zr":0.09,"zf":0.08,"er":0.07,"ef":0.04,"br":2700,"bf":2800},
      {"t":21.875,"zr":0.04,"zf":0.05,"er":0.03,"ef":0.02,"br":1400,"bf":1300},
      {"t":22.125,"zr":0.08,"zf":0.07,"er":0.03,"ef":0.02,"br":2300,"bf":2500},
      {"t":22.375,"zr":0.03,"zf":0.04,"er":0.01,"ef":0.005,"br":1500,"bf":1400},
      {"t":22.625,"zr":0.1,"zf":0.11,"er":0.08,"ef":0.05,"br":2800,"bf":2900},
      {"t":22.875,"zr":0.06,"zf":0.05,"er":0.05,"ef":0.03,"br":1300,"bf":1500},
      {"t":23.125,"zr":0.09,"zf":0.08,"er":0.08,"ef":0.05,"br":2500,"bf":2400},
      {"t":23.375,"zr":0.05,"zf":0.04,"er":0.03,"ef":0.02,"br":1400,"bf":1300},
      {"t":23.625,"zr":0.11,"zf":0.09,"er":0.1,"ef":0.06,"br":2900,"bf":3000},
      {"t":23.875,"zr":0.06,"zf":0.05,"er":0.04,"ef":0.02,"br":1600,"bf":1500},
      {"t":24.125,"zr":0.1,"zf":0.12,"er":0.05,"ef":0.03,"br":2400,"bf":2600},
      {"t":24.375,"zr":0.04,"zf":0.03,"er":0.02,"ef":0.01,"br":1300,"bf":1400},
      {"t":24.625,"zr":0.09,"zf":0.08,"er":0.09,"ef":0.05,"br":2700,"bf":2800},
      {"t":24.875,"zr":0.05,"zf":0.06,"er":0.04,"ef":0.02,"br":1500,"bf":1300},
      {"t":25.125,"zr":0.11,"zf":0.09,"er":0.06,"ef":0.04,"br":2500,"bf":2700},
      {"t":25.375,"zr":0.04,"zf":0.05,"er":0.03,"ef":0.02,"br":1400,"bf":1500},
      {"t":25.625,"zr":0.08,"zf":0.1,"er":0.08,"ef":0.05,"br":2800,"bf":2900},
      {"t":25.875,"zr":0.05,"zf":0.04,"er":0.03,"ef":0.02,"br":1300,"bf":1400},
      {"t":26.125,"zr":0.09,"zf":0.07,"er":0.03,"ef":0.02,"br":2400,"bf":2500},
      {"t":26.375,"zr":0.04,"zf":0.03,"er":0.01,"ef":0.005,"br":1600,"bf":1300},
      {"t":26.625,"zr":0.12,"zf":0.1,"er":0.05,"ef":0.03,"br":2700,"bf":2800},
      {"t":26.875,"zr":0.07,"zf":0.06,"er":0.04,"ef":0.02,"br":1400,"bf":1500},
      {"t":27.125,"zr":0.09,"zf":0.08,"er":0.06,"ef":0.04,"br":2500,"bf":2400},
      {"t":27.375,"zr":0.04,"zf":0.05,"er":0.02,"ef":0.01,"br":1500,"bf":1400},
      {"t":27.625,"zr":0.1,"zf":0.09,"er":0.09,"ef":0.05,"br":2900,"bf":3000},
      {"t":27.875,"zr":0.06,"zf":0.05,"er":0.06,"ef":0.04,"br":1300,"bf":1600},
      {"t":28.125,"zr":0.08,"zf":0.09,"er":0.08,"ef":0.05,"br":2400,"bf":2500},
      {"t":28.375,"zr":0.04,"zf":0.03,"er":0.03,"ef":0.02,"br":1400,"bf":1300},
      {"t":28.625,"zr":0.11,"zf":0.1,"er":0.1,"ef":0.06,"br":2800,"bf":2900},
      {"t":28.875,"zr":0.05,"zf":0.06,"er":0.04,"ef":0.02,"br":1500,"bf":1400},
      {"t":29.125,"zr":0.1,"zf":0.08,"er":0.09,"ef":0.05,"br":2600,"bf":2500},
      {"t":29.375,"zr":0.04,"zf":0.03,"er":0.03,"ef":0.02,"br":1400,"bf":1500},
      {"t":29.625,"zr":0.06,"zf":0.05,"er":0.07,"ef":0.04,"br":2700,"bf":2800},
      {"t":29.875,"zr":0.02,"zf":0.03,"er":0.03,"ef":0.02,"br":1300,"bf":1200},
      {"t":30.125,"zr":0.04,"zf":0.05,"er":0.09,"ef":0.05,"br":2400,"bf":2600},
      {"t":30.375,"zr":0.03,"zf":0.02,"er":0.05,"ef":0.03,"br":1500,"bf":1400},
      {"t":30.625,"zr":0.07,"zf":0.06,"er":0.1,"ef":0.06,"br":2800,"bf":2900},
      {"t":30.875,"zr":0.05,"zf":0.04,"er":0.04,"ef":0.02,"br":1400,"bf":1300},
      {"t":31.125,"zr":0.08,"zf":0.07,"er":0.03,"ef":0.02,"br":2500,"bf":2400},
      {"t":31.375,"zr":0.03,"zf":0.04,"er":0.02,"ef":0.01,"br":1600,"bf":1500},
      {"t":31.625,"zr":0.1,"zf":0.09,"er":0.08,"ef":0.05,"br":2900,"bf":2800},
      {"t":31.875,"zr":0.06,"zf":0.05,"er":0.05,"ef":0.03,"br":1300,"bf":1400},
      {"t":32.125,"zr":0.12,"zf":0.1,"er":0.06,"ef":0.04,"br":2600,"bf":2700},
      {"t":32.375,"zr":0.08,"zf":0.07,"er":0.1,"ef":0.06,"br":1500,"bf":1400},
      {"t":32.625,"zr":0.14,"zf":0.11,"er":0.12,"ef":0.08,"br":2800,"bf":3000},
      {"t":32.875,"zr":0.09,"zf":0.08,"er":0.08,"ef":0.06,"br":1400,"bf":1500},
      {"t":33.125,"zr":0.11,"zf":0.09,"er":0.12,"ef":0.07,"br":2500,"bf":2600},
      {"t":33.375,"zr":0.05,"zf":0.04,"er":0.04,"ef":0.03,"br":1500,"bf":1300},
      {"t":33.625,"zr":0.12,"zf":0.1,"er":0.09,"ef":0.06,"br":2900,"bf":2900},
      {"t":33.875,"zr":0.06,"zf":0.05,"er":0.06,"ef":0.04,"br":1300,"bf":1400},
      {"t":34.125,"zr":0.09,"zf":0.08,"er":0.08,"ef":0.05,"br":2400,"bf":2500},
      {"t":34.375,"zr":0.04,"zf":0.05,"er":0.03,"ef":0.02,"br":1600,"bf":1500},
      {"t":34.625,"zr":0.11,"zf":0.1,"er":0.11,"ef":0.07,"br":2800,"bf":2700},
      {"t":34.875,"zr":0.07,"zf":0.06,"er":0.05,"ef":0.03,"br":1400,"bf":1300},
      {"t":35.125,"zr":0.1,"zf":0.09,"er":0.07,"ef":0.05,"br":2600,"bf":2800},
      {"t":35.375,"zr":0.05,"zf":0.04,"er":0.03,"ef":0.02,"br":1500,"bf":1400},
      {"t":35.625,"zr":0.12,"zf":0.1,"er":0.09,"ef":0.06,"br":2900,"bf":3000},
      {"t":35.875,"zr":0.06,"zf":0.07,"er":0.04,"ef":0.03,"br":1300,"bf":1500},
      {"t":36.125,"zr":0.15,"zf":0.12,"er":0.05,"ef":0.03,"br":2500,"bf":2400},
      {"t":36.375,"zr":0.06,"zf":0.05,"er":0.03,"ef":0.02,"br":1400,"bf":1300},
      {"t":36.625,"zr":0.1,"zf":0.09,"er":0.08,"ef":0.05,"br":2700,"bf":2900},
      {"t":36.875,"zr":0.05,"zf":0.06,"er":0.04,"ef":0.02,"br":1600,"bf":1400},
      {"t":37.125,"zr":0.09,"zf":0.08,"er":0.07,"ef":0.05,"br":2600,"bf":2500},
      {"t":37.375,"zr":0.05,"zf":0.04,"er":0.04,"ef":0.03,"br":1400,"bf":1300},
      {"t":37.625,"zr":0.11,"zf":0.1,"er":0.1,"ef":0.07,"br":2900,"bf":2800},
      {"t":37.875,"zr":0.07,"zf":0.06,"er":0.06,"ef":0.04,"br":1500,"bf":1500},
      {"t":38.125,"zr":0.1,"zf":0.09,"er":0.08,"ef":0.06,"br":2500,"bf":2600},
      {"t":38.375,"zr":0.05,"zf":0.04,"er":0.04,"ef":0.03,"br":1300,"bf":1400},
      {"t":38.625,"zr":0.13,"zf":0.11,"er":0.1,"ef":0.07,"br":2800,"bf":3000},
      {"t":38.875,"zr":0.08,"zf":0.07,"er":0.06,"ef":0.04,"br":1500,"bf":1300},
      {"t":39.125,"zr":0.1,"zf":0.09,"er":0.08,"ef":0.05,"br":2600,"bf":2500},
      {"t":39.375,"zr":0.05,"zf":0.04,"er":0.03,"ef":0.02,"br":1400,"bf":1500},
      {"t":39.625,"zr":0.12,"zf":0.1,"er":0.09,"ef":0.06,"br":2900,"bf":2900},
      {"t":39.875,"zr":0.06,"zf":0.05,"er":0.05,"ef":0.03,"br":1300,"bf":1400},
      {"t":40.125,"zr":0.11,"zf":0.1,"er":0.06,"ef":0.04,"br":2500,"bf":2600},
      {"t":40.375,"zr":0.06,"zf":0.05,"er":0.03,"ef":0.02,"br":1500,"bf":1300},
      {"t":40.625,"zr":0.14,"zf":0.12,"er":0.08,"ef":0.05,"br":2800,"bf":2800},
      {"t":40.875,"zr":0.07,"zf":0.08,"er":0.05,"ef":0.03,"br":1400,"bf":1500},
      {"t":41.125,"zr":0.09,"zf":0.08,"er":0.07,"ef":0.05,"br":2600,"bf":2700},
      {"t":41.375,"zr":0.05,"zf":0.04,"er":0.03,"ef":0.02,"br":1300,"bf":1300},
      {"t":41.625,"zr":0.11,"zf":0.09,"er":0.09,"ef":0.06,"br":2900,"bf":3000},
      {"t":41.875,"zr":0.06,"zf":0.05,"er":0.05,"ef":0.03,"br":1500,"bf":1400},
      {"t":42.125,"zr":0.1,"zf":0.09,"er":0.08,"ef":0.05,"br":2400,"bf":2500},
      {"t":42.375,"zr":0.05,"zf":0.04,"er":0.03,"ef":0.02,"br":1400,"bf":1300},
      {"t":42.625,"zr":0.12,"zf":0.11,"er":0.1,"ef":0.06,"br":2800,"bf":2900},
      {"t":42.875,"zr":0.06,"zf":0.05,"er":0.04,"ef":0.02,"br":1300,"bf":1500},
      {"t":43.125,"zr":0.09,"zf":0.1,"er":0.06,"ef":0.04,"br":2600,"bf":2600},
      {"t":43.375,"zr":0.04,"zf":0.05,"er":0.02,"ef":0.01,"br":1500,"bf":1400},
      {"t":43.625,"zr":0.13,"zf":0.12,"er":0.08,"ef":0.06,"br":2900,"bf":2800},
      {"t":43.875,"zr":0.07,"zf":0.06,"er":0.05,"ef":0.03,"br":1400,"bf":1300},
      {"t":44.125,"zr":0.1,"zf":0.09,"er":0.09,"ef":0.06,"br":2500,"bf":2500},
      {"t":44.375,"zr":0.05,"zf":0.04,"er":0.04,"ef":0.03,"br":1300,"bf":1400},
      {"t":44.625,"zr":0.12,"zf":0.1,"er":0.11,"ef":0.07,"br":2800,"bf":3000},
      {"t":44.875,"zr":0.06,"zf":0.05,"er":0.05,"ef":0.03,"br":1500,"bf":1500},
      {"t":45.125,"zr":0.08,"zf":0.07,"er":0.07,"ef":0.04,"br":2600,"bf":2700},
      {"t":45.375,"zr":0.03,"zf":0.04,"er":0.03,"ef":0.02,"br":1400,"bf":1300},
      {"t":45.625,"zr":0.1,"zf":0.09,"er":0.08,"ef":0.05,"br":2900,"bf":2800},
      {"t":45.875,"zr":0.05,"zf":0.04,"er":0.04,"ef":0.02,"br":1300,"bf":1400},
      {"t":46.125,"zr":0.06,"zf":0.05,"er":0.03,"ef":0.02,"br":2500,"bf":2400},
      {"t":46.375,"zr":0.02,"zf":0.03,"er":0.01,"ef":0.005,"br":1500,"bf":1300},
      {"t":46.625,"zr":0.09,"zf":0.08,"er":0.04,"ef":0.03,"br":2700,"bf":2900},
      {"t":46.875,"zr":0.06,"zf":0.05,"er":0.06,"ef":0.04,"br":1400,"bf":1500},
      {"t":47.125,"zr":0.11,"zf":0.09,"er":0.1,"ef":0.06,"br":2600,"bf":2600},
      {"t":47.375,"zr":0.06,"zf":0.05,"er":0.05,"ef":0.03,"br":1300,"bf":1400},
      {"t":47.625,"zr":0.13,"zf":0.11,"er":0.12,"ef":0.08,"br":2900,"bf":3000},
      {"t":47.875,"zr":0.07,"zf":0.06,"er":0.07,"ef":0.05,"br":1500,"bf":1300},
      {"t":48.125,"zr":0.1,"zf":0.09,"er":0.1,"ef":0.06,"br":2500,"bf":2500},
      {"t":48.375,"zr":0.05,"zf":0.04,"er":0.04,"ef":0.03,"br":1400,"bf":1400},
      {"t":48.625,"zr":0.12,"zf":0.1,"er":0.09,"ef":0.06,"br":2800,"bf":2900},
      {"t":48.875,"zr":0.06,"zf":0.05,"er":0.05,"ef":0.03,"br":1300,"bf":1500},
      {"t":49.125,"zr":0.09,"zf":0.08,"er":0.08,"ef":0.05,"br":2600,"bf":2600},
      {"t":49.375,"zr":0.04,"zf":0.05,"er":0.03,"ef":0.02,"br":1500,"bf":1300},
      {"t":49.625,"zr":0.11,"zf":0.1,"er":0.1,"ef":0.06,"br":2900,"bf":2800},
      {"t":49.875,"zr":0.06,"zf":0.05,"er":0.04,"ef":0.02,"br":1400,"bf":1400},
      {"t":50.125,"zr":0.09,"zf":0.08,"er":0.08,"ef":0.05,"br":2500,"bf":2700},
      {"t":50.375,"zr":0.04,"zf":0.03,"er":0.03,"ef":0.02,"br":1300,"bf":1300},
      {"t":50.625,"zr":0.1,"zf":0.09,"er":0.09,"ef":0.06,"br":2800,"bf":2900},
      {"t":50.875,"zr":0.05,"zf":0.06,"er":0.04,"ef":0.03,"br":1500,"bf":1400},
      {"t":51.125,"zr":0.08,"zf":0.1,"er":0.07,"ef":0.05,"br":2600,"bf":2500},
      {"t":51.375,"zr":0.04,"zf":0.05,"er":0.03,"ef":0.02,"br":1400,"bf":1300},
      {"t":51.625,"zr":0.11,"zf":0.1,"er":0.09,"ef":0.06,"br":2900,"bf":3000},
      {"t":51.875,"zr":0.06,"zf":0.05,"er":0.04,"ef":0.02,"br":1300,"bf":1500},
      {"t":52.125,"zr":0.1,"zf":0.12,"er":0.07,"ef":0.05,"br":2500,"bf":2600},
      {"t":52.375,"zr":0.05,"zf":0.04,"er":0.03,"ef":0.02,"br":1500,"bf":1400},
      {"t":52.625,"zr":0.09,"zf":0.1,"er":0.09,"ef":0.05,"br":2800,"bf":2800},
      {"t":52.875,"zr":0.06,"zf":0.05,"er":0.05,"ef":0.03,"br":1400,"bf":1300},
      {"t":53.125,"zr":0.08,"zf":0.07,"er":0.07,"ef":0.05,"br":2600,"bf":2700},
      {"t":53.375,"zr":0.04,"zf":0.05,"er":0.03,"ef":0.02,"br":1300,"bf":1400},
      {"t":53.625,"zr":0.12,"zf":0.1,"er":0.08,"ef":0.05,"br":2900,"bf":2900},
      {"t":53.875,"zr":0.06,"zf":0.05,"er":0.04,"ef":0.03,"br":1500,"bf":1500},
      {"t":54.125,"zr":0.09,"zf":0.08,"er":0.04,"ef":0.03,"br":2400,"bf":2500},
      {"t":54.375,"zr":0.04,"zf":0.03,"er":0.02,"ef":0.01,"br":1400,"bf":1300},
      {"t":54.625,"zr":0.11,"zf":0.1,"er":0.07,"ef":0.05,"br":2800,"bf":3000},
      {"t":54.875,"zr":0.07,"zf":0.06,"er":0.06,"ef":0.04,"br":1300,"bf":1400},
      {"t":55.125,"zr":0.1,"zf":0.09,"er":0.09,"ef":0.05,"br":2600,"bf":2600},
      {"t":55.375,"zr":0.05,"zf":0.04,"er":0.04,"ef":0.02,"br":1500,"bf":1300},
      {"t":55.625,"zr":0.12,"zf":0.11,"er":0.08,"ef":0.05,"br":2900,"bf":2800},
      {"t":55.875,"zr":0.06,"zf":0.07,"er":0.04,"ef":0.03,"br":1400,"bf":1500},
      {"t":56.125,"zr":0.09,"zf":0.08,"er":0.04,"ef":0.03,"br":2500,"bf":2500},
      {"t":56.375,"zr":0.04,"zf":0.03,"er":0.02,"ef":0.01,"br":1300,"bf":1400},
      {"t":56.625,"zr":0.1,"zf":0.09,"er":0.06,"ef":0.04,"br":2700,"bf":2700},
      {"t":56.875,"zr":0.06,"zf":0.05,"er":0.03,"ef":0.02,"br":1500,"bf":1300},
      {"t":57.125,"zr":0.08,"zf":0.07,"er":0.06,"ef":0.04,"br":2100,"bf":2000},
      {"t":57.375,"zr":0.04,"zf":0.05,"er":0.03,"ef":0.02,"br":1300,"bf":1400},
      {"t":57.625,"zr":0.09,"zf":0.08,"er":0.09,"ef":0.05,"br":2300,"bf":2200},
      {"t":57.875,"zr":0.05,"zf":0.04,"er":0.04,"ef":0.02,"br":1200,"bf":1300},
      {"t":58.125,"zr":0.08,"zf":0.09,"er":0.06,"ef":0.04,"br":2000,"bf":2100},
      {"t":58.375,"zr":0.04,"zf":0.05,"er":0.02,"ef":0.01,"br":1300,"bf":1200},
      {"t":58.625,"zr":0.1,"zf":0.08,"er":0.07,"ef":0.05,"br":2200,"bf":2300},
      {"t":58.875,"zr":0.05,"zf":0.04,"er":0.04,"ef":0.02,"br":1400,"bf":1300},
      {"t":59.125,"zr":0.09,"zf":0.08,"er":0.1,"ef":0.06,"br":2600,"bf":2700},
      {"t":59.375,"zr":0.05,"zf":0.06,"er":0.07,"ef":0.04,"br":1500,"bf":1400},
      {"t":59.625,"zr":0.12,"zf":0.1,"er":0.09,"ef":0.06,"br":2400,"bf":2600},
      {"t":59.875,"zr":0.2,"zf":0.15,"er":0.06,"ef":0.04,"br":1800,"bf":2300}
    ],
    "mf": [
      {"i":1,"s":"REAL","v":0.1624},{"i":2,"s":"REAL","v":0.0525},{"i":3,"s":"REAL","v":0.012},
      {"i":4,"s":"REAL","v":0.0086},{"i":5,"s":"REAL","v":-0.0089},{"i":6,"s":"REAL","v":0.0091},
      {"i":7,"s":"REAL","v":0.0009},{"i":8,"s":"REAL","v":0.0009},{"i":9,"s":"REAL","v":-0.0033},
      {"i":10,"s":"REAL","v":0.0066},{"i":11,"s":"REAL","v":-0.0027},{"i":12,"s":"REAL","v":-0.0015},
      {"i":13,"s":"REAL","v":0.0021},
      {"i":1,"s":"FAKE","v":0.157},{"i":2,"s":"FAKE","v":0.0579},{"i":3,"s":"FAKE","v":0.0054},
      {"i":4,"s":"FAKE","v":0.0198},{"i":5,"s":"FAKE","v":-0.0055},{"i":6,"s":"FAKE","v":-0.0024},
      {"i":7,"s":"FAKE","v":0.0058},{"i":8,"s":"FAKE","v":-0.0027},{"i":9,"s":"FAKE","v":-0.0027},
      {"i":10,"s":"FAKE","v":0.0006},{"i":11,"s":"FAKE","v":0.0003},{"i":12,"s":"FAKE","v":0.0045},
      {"i":13,"s":"FAKE","v":-0.0006}
    ],
    "sc": [
      {"b":"Band 1","s":"REAL","v":19.8},{"b":"Band 2","s":"REAL","v":16.8},{"b":"Band 3","s":"REAL","v":18.95},
      {"b":"Band 4","s":"REAL","v":17.1},{"b":"Band 5","s":"REAL","v":18.56},{"b":"Band 6","s":"REAL","v":21.7},
      {"b":"Band 7","s":"REAL","v":46.8},
      {"b":"Band 1","s":"FAKE","v":18.84},{"b":"Band 2","s":"FAKE","v":16.67},{"b":"Band 3","s":"FAKE","v":19.8},
      {"b":"Band 4","s":"FAKE","v":17.3},{"b":"Band 5","s":"FAKE","v":17.8},{"b":"Band 6","s":"FAKE","v":20.97},
      {"b":"Band 7","s":"FAKE","v":47.5}
    ],
    "tz": [
      {"d":"T1","s":"REAL","v":-0.0671},{"d":"T2","s":"REAL","v":0.0037},{"d":"T3","s":"REAL","v":0.0092},
      {"d":"T4","s":"REAL","v":0.0088},{"d":"T5","s":"REAL","v":0.002},{"d":"T6","s":"REAL","v":-0.0301},
      {"d":"T1","s":"FAKE","v":-0.0856},{"d":"T2","s":"FAKE","v":0.0077},{"d":"T3","s":"FAKE","v":0.026},
      {"d":"T4","s":"FAKE","v":0.0154},{"d":"T5","s":"FAKE","v":0.0057},{"d":"T6","s":"FAKE","v":-0.0394}
    ]
  },
  "columns": 3,
  "spacing": {"row": 128, "column": 190},
  "bounds": "flush",
  "resolve": {
    "scale": {"color": "independent", "stroke": "independent", "shape": "independent"},
    "legend": {"color": "independent", "stroke": "independent", "shape": "independent"}
  },
  "concat": [
    {
      "width": 812, "height": 653,
      "title": "1. Zero Crossing Rate (ZCR)",
      "data": {"name": "ts"},
      "encoding": {"x": {"field": "t", "type": "quantitative", "scale": {"domain": [-3, 63], "nice": false, "zero": false}, "axis": {"values": [0, 10, 20, 30, 40, 50, 60], "title": "Time (s)"}}},
      "layer": [
        {
          "mark": {"type": "line", "strokeWidth": 3, "opacity": 0.7},
          "encoding": {
            "y": {"field": "zr", "type": "quantitative", "scale": {"domain": [-0.034, 0.817], "nice": false, "zero": false}, "axis": {"values": [0, 0.1, 0.2, 0.3, 0.4, 0.5, 0.6, 0.7, 0.8], "format": "~g", "title": "ZCR"}},
            "color": {"datum": "REAL", "type": "nominal", "scale": {"domain": ["REAL", "FAKE"], "range": ["green", "red"]}, "legend": {"title": null, "symbolType": "M-2.14,0H2.14", "symbolSize": 484, "symbolStrokeWidth": 3, "labelOffset": 30}}
          }
        },
        {
          "mark": {"type": "line", "strokeWidth": 3, "opacity": 0.7},
          "encoding": {
            "y": {"field": "zf", "type": "quantitative", "scale": {"domain": [-0.034, 0.817], "nice": false, "zero": false}, "axis": {"values": [0, 0.1, 0.2, 0.3, 0.4, 0.5, 0.6, 0.7, 0.8], "format": "~g", "title": "ZCR"}},
            "color": {"datum": "FAKE", "type": "nominal", "legend": {"title": null, "symbolType": "M-2.14,0H2.14", "symbolSize": 484, "symbolStrokeWidth": 3, "labelOffset": 30}}
          }
        }
      ]
    },
    {
      "width": 812, "height": 653,
      "title": "2. RMS Energy (Loudness)",
      "data": {"name": "ts"},
      "encoding": {"x": {"field": "t", "type": "quantitative", "scale": {"domain": [-3, 63], "nice": false, "zero": false}, "axis": {"values": [0, 10, 20, 30, 40, 50, 60], "title": "Time (s)"}}},
      "layer": [
        {
          "mark": {"type": "line", "strokeWidth": 3, "opacity": 0.7},
          "encoding": {
            "y": {"field": "er", "type": "quantitative", "scale": {"domain": [-0.0121, 0.2557], "nice": false, "zero": false}, "axis": {"values": [0, 0.05, 0.1, 0.15, 0.2, 0.25], "format": "~g", "title": "Energy"}},
            "color": {"datum": "REAL", "type": "nominal", "scale": {"domain": ["REAL", "FAKE"], "range": ["green", "red"]}, "legend": {"title": null, "symbolType": "M-2.14,0H2.14", "symbolSize": 484, "symbolStrokeWidth": 3, "labelOffset": 30}}
          }
        },
        {
          "mark": {"type": "line", "strokeWidth": 3, "opacity": 0.7},
          "encoding": {
            "y": {"field": "ef", "type": "quantitative", "scale": {"domain": [-0.0121, 0.2557], "nice": false, "zero": false}, "axis": {"values": [0, 0.05, 0.1, 0.15, 0.2, 0.25], "format": "~g", "title": "Energy"}},
            "color": {"datum": "FAKE", "type": "nominal", "legend": {"title": null, "symbolType": "M-2.14,0H2.14", "symbolSize": 484, "symbolStrokeWidth": 3, "labelOffset": 30}}
          }
        }
      ]
    },
    {
      "width": 812, "height": 653,
      "title": "3. Spectral Bandwidth",
      "data": {"name": "ts"},
      "encoding": {"x": {"field": "t", "type": "quantitative", "scale": {"domain": [-3, 63], "nice": false, "zero": false}, "axis": {"values": [0, 10, 20, 30, 40, 50, 60], "title": "Time (s)"}}},
      "layer": [
        {
          "mark": {"type": "line", "strokeWidth": 3, "opacity": 0.7},
          "encoding": {
            "y": {"field": "br", "type": "quantitative", "scale": {"domain": [548, 3920], "nice": false, "zero": false}, "axis": {"values": [1000, 1500, 2000, 2500, 3000, 3500], "labelExpr": "format(datum.value / 1000, '~g') + '×10^3'", "title": "Bandwidth (Hz)"}},
            "color": {"datum": "REAL", "type": "nominal", "scale": {"domain": ["REAL", "FAKE"], "range": ["green", "red"]}, "legend": {"title": null, "symbolType": "M-2.14,0H2.14", "symbolSize": 484, "symbolStrokeWidth": 3, "labelOffset": 30}}
          }
        },
        {
          "mark": {"type": "line", "strokeWidth": 3, "opacity": 0.7},
          "encoding": {
            "y": {"field": "bf", "type": "quantitative", "scale": {"domain": [548, 3920], "nice": false, "zero": false}, "axis": {"values": [1000, 1500, 2000, 2500, 3000, 3500], "labelExpr": "format(datum.value / 1000, '~g') + '×10^3'", "title": "Bandwidth (Hz)"}},
            "color": {"datum": "FAKE", "type": "nominal", "legend": {"title": null, "symbolType": "M-2.14,0H2.14", "symbolSize": 484, "symbolStrokeWidth": 3, "labelOffset": 30}}
          }
        }
      ]
    },
    {
      "width": 812, "height": 653,
      "title": "4. MFCC Delta (Temporal Changes)",
      "data": {"name": "mf"},
      "encoding": {
        "x": {"field": "i", "type": "quantitative", "scale": {"domain": [0.4, 13.6], "nice": false, "zero": false}, "axis": {"values": [2, 4, 6, 8, 10, 12], "title": "MFCC Coefficient Index"}},
        "y": {"field": "v", "type": "quantitative", "scale": {"domain": [-0.0176, 0.171], "nice": false, "zero": false}, "axis": {"values": [0, 0.025, 0.05, 0.075, 0.1, 0.125, 0.15], "labelExpr": "format(datum.value + 0.00001, '.2~f')", "title": "Mean Delta Value"}}
      },
      "layer": [
        {
          "transform": [{"filter": "datum.s == 'REAL'"}],
          "mark": {"type": "line", "strokeWidth": 4, "opacity": 0.7},
          "encoding": {"color": {"field": "s", "type": "nominal", "scale": {"domain": ["REAL", "FAKE"], "range": ["green", "red"]}, "legend": {"title": null, "symbolSize": 484, "symbolStrokeWidth": 4, "labelOffset": 30}}}
        },
        {
          "transform": [{"filter": "datum.s == 'REAL'"}],
          "mark": {"type": "point", "shape": "circle", "filled": true, "size": 170, "opacity": 0.7},
          "encoding": {"color": {"field": "s", "type": "nominal", "legend": {"title": null, "symbolSize": 484, "symbolStrokeWidth": 4, "labelOffset": 30}}}
        },
        {
          "transform": [{"filter": "datum.s == 'FAKE'"}],
          "mark": {"type": "line", "strokeWidth": 4, "opacity": 0.7},
          "encoding": {"color": {"field": "s", "type": "nominal", "legend": {"title": null, "symbolSize": 484, "symbolStrokeWidth": 4, "labelOffset": 30}}}
        },
        {
          "transform": [{"filter": "datum.s == 'FAKE'"}],
          "mark": {"type": "point", "shape": "M-1,-1L1,1M-1,1L1,-1", "filled": false, "size": 100, "strokeWidth": 2.5, "opacity": 0.7},
          "encoding": {"color": {"field": "s", "type": "nominal", "legend": {"title": null, "symbolSize": 484, "symbolStrokeWidth": 4, "labelOffset": 30}}}
        },
        {
          "mark": {"type": "point", "filled": false, "opacity": 0.7, "strokeWidth": 4, "size": 0},
          "encoding": {
            "color": {"field": "s", "type": "nominal", "legend": {"title": null, "symbolSize": 484, "symbolStrokeWidth": 4, "labelOffset": 30}},
            "shape": {"field": "s", "type": "nominal", "scale": {"domain": ["REAL", "FAKE"], "range": ["M-2.14,0H2.14M-0.3,0A0.3,0.3,0,1,1,0.3,0A0.3,0.3,0,1,1,-0.3,0Z", "M-2.14,0H2.14M-0.45,-0.45L0.45,0.45M-0.45,0.45L0.45,-0.45"]}, "legend": {"title": null, "symbolSize": 484, "symbolStrokeWidth": 4, "labelOffset": 30}}
          }
        }
      ]
    },
    {
      "width": 812, "height": 653,
      "title": "5. Spectral Contrast (Frequency Bands)",
      "data": {"name": "sc"},
      "mark": {"type": "bar", "opacity": 0.7, "strokeWidth": 1.5},
      "encoding": {
        "x": {"field": "b", "type": "nominal", "sort": null, "scale": {"paddingInner": 0.3, "paddingOuter": 0.335}, "axis": {"labelAngle": 0, "title": "Frequency Bands", "grid": false}},
        "xOffset": {"field": "s", "type": "nominal", "sort": ["REAL", "FAKE"], "scale": {"domain": ["REAL", "FAKE"], "paddingInner": 0, "paddingOuter": 0}},
        "y": {"field": "v", "type": "quantitative", "scale": {"domain": [0, 49.9], "nice": false}, "axis": {"values": [0, 10, 20, 30, 40], "format": "d", "title": "Contrast (dB)"}},
        "color": {"field": "s", "type": "nominal", "scale": {"domain": ["REAL", "FAKE"], "range": ["green", "red"]}, "legend": {"title": null, "symbolType": "M-2.14,-0.82H2.14V0.82H-2.14Z", "symbolSize": 484, "symbolStrokeWidth": 1.5, "labelOffset": 30}},
        "stroke": {"field": "s", "type": "nominal", "scale": {"domain": ["REAL", "FAKE"], "range": ["darkgreen", "darkred"]}, "legend": {"title": null, "symbolType": "M-2.14,-0.82H2.14V0.82H-2.14Z", "symbolSize": 484, "symbolStrokeWidth": 1.5, "labelOffset": 30}}
      }
    },
    {
      "width": 812, "height": 653,
      "title": "6. Tonnetz (Harmonic Pitch Space)",
      "data": {"name": "tz"},
      "mark": {"type": "bar", "opacity": 0.7, "strokeWidth": 1.5},
      "encoding": {
        "x": {"field": "d", "type": "nominal", "sort": null, "scale": {"paddingInner": 0.3, "paddingOuter": 0.285}, "axis": {"labelAngle": 0, "title": "Tonnetz Dimension", "grid": false}},
        "xOffset": {"field": "s", "type": "nominal", "sort": ["REAL", "FAKE"], "scale": {"domain": ["REAL", "FAKE"], "paddingInner": 0, "paddingOuter": 0}},
        "y": {"field": "v", "type": "quantitative", "scale": {"domain": [-0.0912, 0.0317], "nice": false, "zero": false}, "axis": {"values": [-0.08, -0.06, -0.04, -0.02, 0, 0.02], "format": "~g", "title": "Mean Tonnetz Value"}},
        "color": {"field": "s", "type": "nominal", "scale": {"domain": ["REAL", "FAKE"], "range": ["green", "red"]}, "legend": {"title": null, "symbolType": "M-2.14,-0.82H2.14V0.82H-2.14Z", "symbolSize": 484, "symbolStrokeWidth": 1.5, "labelOffset": 30}},
        "stroke": {"field": "s", "type": "nominal", "scale": {"domain": ["REAL", "FAKE"], "range": ["darkgreen", "darkred"]}, "legend": {"title": null, "symbolType": "M-2.14,-0.82H2.14V0.82H-2.14Z", "symbolSize": 484, "symbolStrokeWidth": 1.5, "labelOffset": 30}}
      }
    }
  ]
}
